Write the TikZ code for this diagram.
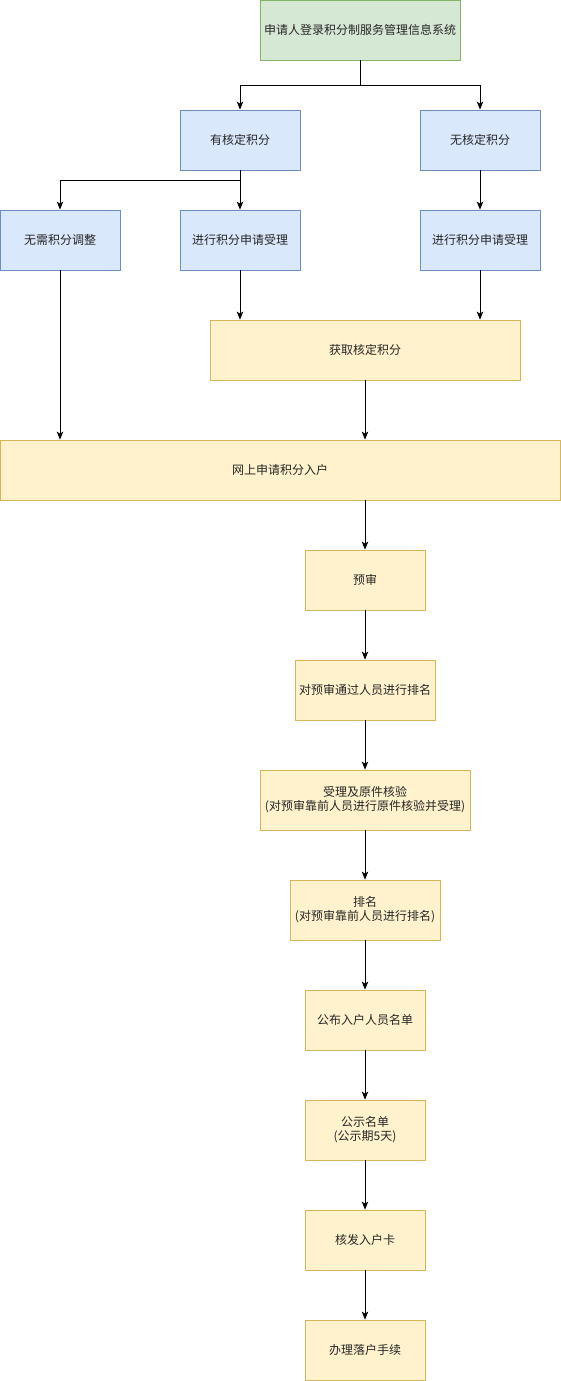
\documentclass[tikz,border=0pt]{standalone}
\usepackage{fontspec}
\setmainfont{Noto Sans CJK SC}
\usetikzlibrary{arrows.meta,positioning}
\definecolor{gfill}{HTML}{D5E8D4}\definecolor{gdraw}{HTML}{82B366}
\definecolor{bfill}{HTML}{DAE8FC}\definecolor{bdraw}{HTML}{6C8EBF}
\definecolor{yfill}{HTML}{FFF2CC}\definecolor{ydraw}{HTML}{D6B656}
\tikzset{
  boxbase/.style={draw, line width=0.8pt, inner sep=0pt, align=center, font=\fontsize{12}{14}\selectfont, text=black!85},
  gbox/.style={boxbase, fill=gfill, draw=gdraw},
  bbox/.style={boxbase, fill=bfill, draw=bdraw},
  ybox/.style={boxbase, fill=yfill, draw=ydraw},
  arr/.style={draw, line width=0.8pt, -{Stealth[length=8pt,width=6.5pt,inset=2pt]}}
}
\newcommand{\bx}[7]{\node[#1, minimum width=#4pt, minimum height=#5pt] (#2) at (#3) {#6};}
\begin{document}
\begin{tikzpicture}[x=1pt,y=-1pt]
\useasboundingbox (0,0) rectangle (561,1381);
\node[gbox, minimum width=200pt, minimum height=60pt] (top) at (360,30) {申请人登录积分制服务管理信息系统};
\node[bbox, minimum width=120pt, minimum height=60pt] (yhd) at (240,140) {有核定积分};
\node[bbox, minimum width=120pt, minimum height=60pt] (whd) at (480,140) {无核定积分};
\node[bbox, minimum width=120pt, minimum height=60pt] (wx) at (60,240) {无需积分调整};
\node[bbox, minimum width=120pt, minimum height=60pt] (jx1) at (240,240) {进行积分申请受理};
\node[bbox, minimum width=120pt, minimum height=60pt] (jx2) at (480,240) {进行积分申请受理};
\node[ybox, minimum width=310pt, minimum height=60pt] (hq) at (365,350) {获取核定积分};
\node[ybox, minimum width=560pt, minimum height=60pt] (ws) at (280,470) {网上申请积分入户};
\node[ybox, minimum width=120pt, minimum height=60pt] (ys) at (365,580) {预审};
\node[ybox, minimum width=140pt, minimum height=60pt] (pm1) at (365,690) {对预审通过人员进行排名};
\node[ybox, minimum width=210pt, minimum height=60pt] (sl) at (365,800) {受理及原件核验\\(对预审靠前人员进行原件核验并受理)};
\node[ybox, minimum width=150pt, minimum height=60pt] (pm2) at (365,910) {排名\\(对预审靠前人员进行排名)};
\node[ybox, minimum width=120pt, minimum height=60pt] (gb) at (365,1020) {公布入户人员名单};
\node[ybox, minimum width=120pt, minimum height=60pt] (gs) at (365,1130) {公示名单\\(公示期5天)};
\node[ybox, minimum width=120pt, minimum height=60pt] (hf) at (365,1240) {核发入户卡};
\node[ybox, minimum width=120pt, minimum height=60pt] (bl) at (365,1350) {办理落户手续};

\draw[arr] (top.south) -- ++(0,25) -| (yhd.north);
\draw[arr] (top.south) -- ++(0,25) -| (whd.north);
\draw[arr] (yhd.south) -- ++(0,10) -| (wx.north);
\draw[arr] (yhd.south) -- (jx1.north);
\draw[arr] (whd.south) -- (jx2.north);
\draw[arr] (jx1.south) -- (jx1.south |- hq.north);
\draw[arr] (jx2.south) -- (jx2.south |- hq.north);
\draw[arr] (wx.south) -- (wx.south |- ws.north);
\draw[arr] (hq.south) -- (hq.south |- ws.north);
\draw[arr] (ys.north |- ws.south) -- (ys.north);
\draw[arr] (ys.south) -- (pm1.north);
\draw[arr] (pm1.south) -- (sl.north);
\draw[arr] (sl.south) -- (pm2.north);
\draw[arr] (pm2.south) -- (gb.north);
\draw[arr] (gb.south) -- (gs.north);
\draw[arr] (gs.south) -- (hf.north);
\draw[arr] (hf.south) -- (bl.north);
\end{tikzpicture}
\end{document}
